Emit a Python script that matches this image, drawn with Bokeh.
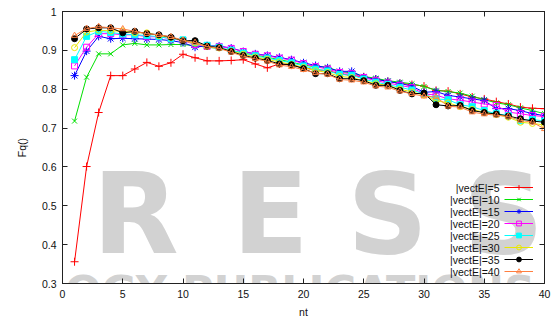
from bokeh.plotting import figure
from bokeh.models import (Range1d, LinearAxis, FixedTicker, Legend, LegendItem,
                          Label, CustomJSTickFormatter)
from bokeh.embed import file_html
from bokeh.resources import INLINE
from bokeh.core.properties import value

# ---------------- data ----------------
nt = list(range(1, 41))

series_labels = ["|vectE|=5", "|vectE|=10", "|vectE|=15", "|vectE|=20",
                 "|vectE|=25", "|vectE|=30", "|vectE|=35", "|vectE|=40"]

fq_5 = [0.356, 0.601, 0.740, 0.835, 0.835, 0.852, 0.869, 0.859, 0.868, 0.890,
        0.881, 0.873, 0.873, 0.874, 0.876, 0.865, 0.855, 0.865, 0.862, 0.855,
        0.850, 0.848, 0.840, 0.835, 0.832, 0.826, 0.820, 0.815, 0.812, 0.808,
        0.797, 0.795, 0.788, 0.780, 0.775, 0.768, 0.762, 0.754, 0.751, 0.750]
fq_10 = [0.718, 0.831, 0.891, 0.891, 0.914, 0.918, 0.914, 0.914, 0.915, 0.915,
         0.912, 0.908, 0.905, 0.900, 0.893, 0.888, 0.882, 0.876, 0.870, 0.862,
         0.858, 0.857, 0.845, 0.842, 0.833, 0.828, 0.822, 0.818, 0.814, 0.807,
         0.797, 0.794, 0.790, 0.782, 0.773, 0.765, 0.760, 0.752, 0.745, 0.737]
fq_15 = [0.835, 0.898, 0.936, 0.930, 0.931, 0.930, 0.929, 0.928, 0.925, 0.920,
         0.908, 0.912, 0.911, 0.906, 0.897, 0.891, 0.887, 0.882, 0.876, 0.868,
         0.861, 0.855, 0.846, 0.846, 0.831, 0.826, 0.820, 0.815, 0.808, 0.792,
         0.794, 0.784, 0.780, 0.775, 0.771, 0.750, 0.750, 0.745, 0.737, 0.732]
fq_20 = [0.860, 0.908, 0.943, 0.943, 0.940, 0.940, 0.935, 0.935, 0.930, 0.925,
         0.915, 0.910, 0.910, 0.905, 0.897, 0.890, 0.886, 0.880, 0.875, 0.866,
         0.858, 0.852, 0.843, 0.840, 0.830, 0.822, 0.816, 0.810, 0.804, 0.788,
         0.785, 0.775, 0.772, 0.767, 0.762, 0.758, 0.741, 0.737, 0.732, 0.730]
fq_25 = [0.876, 0.936, 0.949, 0.946, 0.942, 0.940, 0.938, 0.935, 0.930, 0.927,
         0.920, 0.913, 0.908, 0.900, 0.893, 0.886, 0.880, 0.874, 0.868, 0.860,
         0.852, 0.847, 0.838, 0.836, 0.826, 0.818, 0.812, 0.805, 0.798, 0.788,
         0.775, 0.773, 0.760, 0.755, 0.745, 0.737, 0.732, 0.719, 0.722, 0.718]
fq_30 = [0.907, 0.947, 0.952, 0.950, 0.950, 0.945, 0.945, 0.938, 0.933, 0.925,
         0.918, 0.910, 0.906, 0.898, 0.890, 0.883, 0.877, 0.870, 0.864, 0.856,
         0.848, 0.843, 0.833, 0.830, 0.822, 0.814, 0.810, 0.800, 0.793, 0.785,
         0.770, 0.765, 0.755, 0.748, 0.740, 0.735, 0.728, 0.715, 0.712, 0.708]
fq_35 = [0.930, 0.955, 0.958, 0.958, 0.945, 0.949, 0.943, 0.940, 0.934, 0.925,
         0.925, 0.911, 0.907, 0.897, 0.887, 0.880, 0.874, 0.865, 0.863, 0.853,
         0.840, 0.840, 0.827, 0.827, 0.822, 0.810, 0.810, 0.797, 0.788, 0.790,
         0.760, 0.757, 0.758, 0.745, 0.740, 0.736, 0.731, 0.724, 0.718, 0.715]
fq_40 = [0.938, 0.956, 0.961, 0.958, 0.955, 0.949, 0.943, 0.940, 0.935, 0.926,
         0.920, 0.910, 0.905, 0.895, 0.885, 0.878, 0.872, 0.862, 0.858, 0.850,
         0.842, 0.838, 0.825, 0.823, 0.818, 0.808, 0.805, 0.795, 0.788, 0.782,
         0.780, 0.756, 0.754, 0.741, 0.736, 0.733, 0.730, 0.720, 0.715, 0.698]

x_ticks = [0, 5, 10, 15, 20, 25, 30, 35, 40]
y_ticks = [0.3, 0.4, 0.5, 0.6, 0.7, 0.8, 0.9, 1.0]

# background watermark of the source image
wm_big_letters = ["R", "E", "S", "S"]
wm_small_text = "OLOGY PUBLICATIONS"

# ---------------- styles ----------------
all_series = [fq_5, fq_10, fq_15, fq_20, fq_25, fq_30, fq_35, fq_40]
colors = ["#ff0000", "#00e000", "#0000ff", "#ff00ff",
          "#00ffff", "#e8e800", "#000000", "#ff7f40"]
markers = ["cross", "x", "asterisk", "square", "square", "circle", "circle", "triangle"]
filled = [False, False, False, False, True, False, True, False]
msizes = [8, 7, 8, 6, 6, 6, 6, 6]

FONT = "Liberation Sans"
FS = "10.5px"
BORDER = "#222222"
WM_COLOR = "#d2d2d2"

p = figure(width=556, height=320, output_backend="svg", toolbar_location=None,
           x_range=Range1d(0, 40), y_range=Range1d(0.3, 1.0),
           min_border_left=62, min_border_right=12, min_border_top=11,
           min_border_bottom=37)
p.xgrid.visible = False
p.ygrid.visible = False
p.outline_line_color = BORDER
p.outline_line_width = 1
p.background_fill_color = "white"
p.border_fill_color = "white"

# watermark (drawn beneath the data), letter centres in screen px from frame left
wm_cx = [73, 208, 325, 441]
for ch, cx in zip(wm_big_letters, wm_cx):
    p.add_layout(Label(x=cx, y=70, x_units="screen", y_units="screen", text=ch,
                       text_font="DejaVu Sans", text_font_style="bold",
                       text_font_size="112px", text_color=WM_COLOR,
                       text_align="center", text_baseline="alphabetic",
                       level="underlay"))
p.add_layout(Label(x=-60, y=-7, x_units="screen", y_units="screen",
                   text=wm_small_text, text_font="DejaVu Sans",
                   text_font_style="bold", text_font_size="43px",
                   text_color=WM_COLOR, text_baseline="alphabetic",
                   level="underlay"))

def style_axis(ax, ticks):
    ax.ticker = FixedTicker(ticks=ticks)
    ax.major_tick_in = 5
    ax.major_tick_out = 0
    ax.minor_tick_in = 0
    ax.minor_tick_out = 0
    ax.axis_line_color = BORDER
    ax.major_tick_line_color = BORDER
    ax.major_label_text_font = FONT
    ax.major_label_text_font_size = FS
    ax.major_label_text_color = "#111111"
    ax.axis_label_text_font = FONT
    ax.axis_label_text_font_size = FS
    ax.axis_label_text_font_style = "normal"
    ax.axis_label_text_color = "#111111"

xa = p.xaxis[0]
style_axis(xa, x_ticks)
xa.major_label_standoff = 6
xa.axis_label = "nt"
xa.axis_label_standoff = 5

ya = p.yaxis[0]
style_axis(ya, y_ticks)
ya.formatter = CustomJSTickFormatter(code="return (Math.round(tick*10)/10).toString()")
ya.major_label_standoff = 6
ya.axis_label = "Fq()"
ya.axis_label_standoff = 11

# mirrored ticks (top and right)
blank = CustomJSTickFormatter(code="return ''")
top_ax = LinearAxis(formatter=blank)
style_axis(top_ax, x_ticks)
top_ax.major_label_standoff = 0
p.add_layout(top_ax, "above")
right_ax = LinearAxis(formatter=blank)
style_axis(right_ax, y_ticks)
right_ax.major_label_standoff = 0
p.add_layout(right_ax, "right")

# ---------------- series ----------------
items = []
for vals, c, m, f, s in zip(all_series, colors, markers, filled, msizes):
    rl = p.line(nt, vals, line_color=c, line_width=1)
    rs = p.scatter(nt, vals, marker=m, size=s, line_color=c, line_width=1,
                   fill_color=c if f else None)
    items.append(LegendItem(label=value(" "), renderers=[rl, rs]))

# ---------------- legend (gnuplot style: text right, sample left) ----------------
LEG_TOP = 102      # screen px above frame bottom
ROW = 12
legend = Legend(items=items, location=(442, LEG_TOP - ROW * len(items)), padding=0,
                margin=0, spacing=0, glyph_height=ROW, glyph_width=29,
                label_height=ROW, label_width=1, label_standoff=0,
                border_line_color=None, background_fill_alpha=0)
p.add_layout(legend)

for i, lab in enumerate(series_labels):
    p.add_layout(Label(x=437, y=LEG_TOP - ROW / 2 - i * ROW, x_units="screen",
                       y_units="screen", text=lab, text_align="right",
                       text_baseline="middle", text_font=FONT,
                       text_font_size=FS, text_color="#111111"))

open("out.html", "w").write(file_html(p, INLINE))
